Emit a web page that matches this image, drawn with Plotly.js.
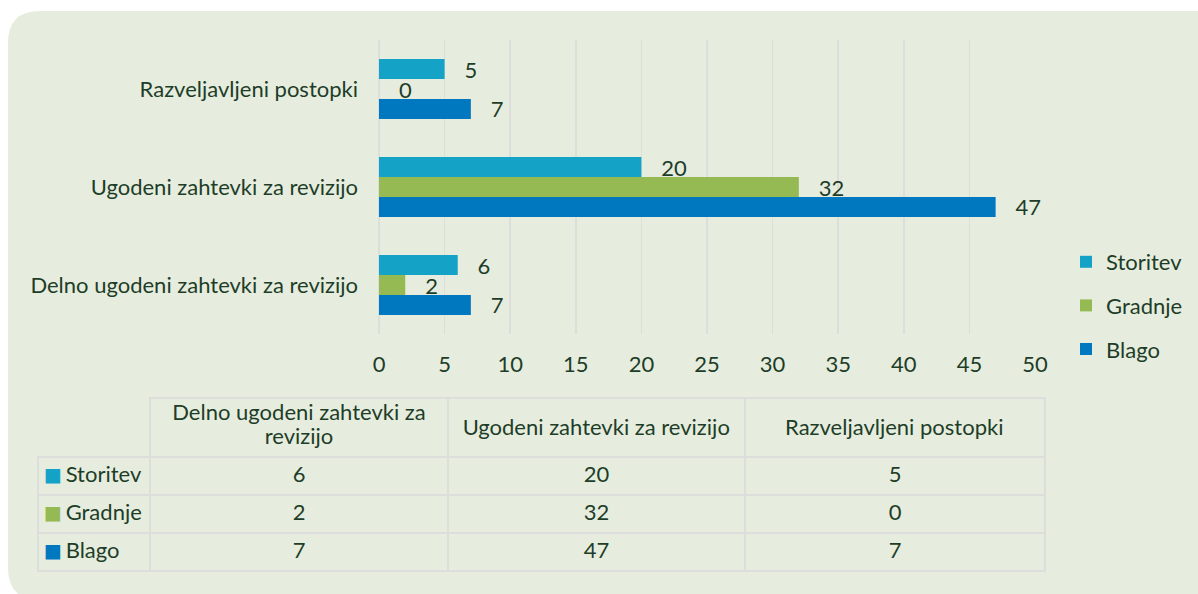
<!DOCTYPE html>
<html>
<head>
<meta charset="utf-8">
<script src="https://cdn.plot.ly/plotly-3.0.1.min.js"></script>
<style>html,body{margin:0;padding:0;background:#fff;}#chart{width:1198px;height:594px;}</style>
</head>
<body>
<div id="chart"></div>
<script>
// ---- data ----
const categories = ["Delno ugodeni zahtevki za revizijo", "Ugodeni zahtevki za revizijo", "Razveljavljeni postopki"];
const headerFirstLine = "Delno ugodeni zahtevki za";
const headerSecondLine = "revizijo";
const headerOneLine = ["Ugodeni zahtevki za revizijo", "Razveljavljeni postopki"];
const seriesNames = ["Storitev", "Gradnje", "Blago"];
const storitev = [6, 20, 5];
const gradnje = [2, 32, 0];
const blago = [7, 47, 7];
const xTicks = [0, 5, 10, 15, 20, 25, 30, 35, 40, 45, 50];

// ---- styles ----
const colors = {Storitev: "#14a3c7", Gradnje: "#95b953", Blago: "#0078bf"};
const txt = "#1e3d28";
const grid = "#dcdedb";
const bg = "rgb(230,237,222)";
const font = "Lato, 'Open Sans', sans-serif";
const FS = 22;
const W = 1198, H = 594;
const px = v => v / W, py = v => 1 - v / H;
const clear = "rgba(0,0,0,0)";

const values = {Storitev: storitev, Gradnje: gradnje, Blago: blago};
const pad = "\u00a0\u00a0\u00a0";

const barOrder = ["Blago", "Gradnje", "Storitev"];
const traces = barOrder.map(name => ({
  type: "bar", orientation: "h", name: name,
  y: categories, x: values[name],
  marker: {color: colors[name]},
  text: values[name].map(v => pad + v),
  textposition: "outside", cliponaxis: false, constraintext: "none",
  textfont: {family: font, size: FS, color: txt},
  legendgroup: name, legendrank: seriesNames.indexOf(name) + 1,
  hoverinfo: "x+name"
}));

// ---- table: grid + values ----
const nameCol = seriesNames.map(n => "\u00a0\u00a0\u00a0\u2009" + n);
const tableCols = [nameCol,
  [storitev[0], gradnje[0], blago[0]],
  [storitev[1], gradnje[1], blago[1]],
  [storitev[2], gradnje[2], blago[2]]];

traces.push({
  type: "table",
  domain: {x: [px(38), px(1045)], y: [py(572), py(398)]},
  columnwidth: [112, 298, 297, 300],
  header: {
    values: ["", "", "", ""],
    align: "center", height: 59,
    fill: {color: clear},
    line: {color: [clear, grid, grid, grid], width: 2},
    font: {family: font, size: FS, color: txt}
  },
  cells: {
    values: tableCols,
    align: ["left", "center", "center", "center"], height: 38,
    fill: {color: clear},
    line: {color: grid, width: 2},
    font: {family: font, size: FS, color: txt}
  },
  showlegend: false
});

// colour keys in the first column
traces.push({
  type: "table",
  domain: {x: [px(36), px(150)], y: [py(580), py(400)]},
  header: {values: [""], height: 59, fill: {color: clear}, line: {color: clear, width: 0}},
  cells: {
    values: [seriesNames.map(() => "■")],
    align: "left", height: 38,
    fill: {color: clear}, line: {color: clear, width: 0},
    font: {family: "DejaVu Sans", size: 19, color: [seriesNames.map(n => colors[n])]}
  },
  showlegend: false
});

// header labels
function headerTable(xa, xb, top, vals, widths) {
  return {
    type: "table",
    domain: {x: [px(xa), px(xb)], y: [py(592), py(top)]},
    columnwidth: widths,
    header: {values: vals, align: "center", height: 40, fill: {color: clear}, line: {color: clear, width: 0},
      font: {family: font, size: FS, color: txt}},
    cells: {values: vals.map(() => [""]), height: 20, fill: {color: clear}, line: {color: clear, width: 0}},
    showlegend: false
  };
}
traces.push(headerTable(150, 448, 395, [headerFirstLine], [298]));
traces.push(headerTable(150, 448, 419, [headerSecondLine], [298]));
traces.push(headerTable(448, 1045, 410, headerOneLine, [297, 300]));

// rounded background
const x0 = px(8), x1 = px(1230), y0 = py(11), y1 = py(600);
const rx = 32 / W, ry = 32 / H;
const bgPath = `M ${x0 + rx},${y0} L ${x1 - rx},${y0} Q ${x1},${y0} ${x1},${y0 - ry} L ${x1},${y1 + ry} Q ${x1},${y1} ${x1 - rx},${y1} L ${x0 + rx},${y1} Q ${x0},${y1} ${x0},${y1 + ry} L ${x0},${y0 - ry} Q ${x0},${y0} ${x0 + rx},${y0} Z`;

const layout = {
  width: W, height: H,
  margin: {l: 0, r: 0, t: 0, b: 0},
  paper_bgcolor: "#ffffff", plot_bgcolor: clear,
  font: {family: font, size: FS, color: txt},
  barmode: "group", bargap: 0.388, bargroupgap: 0,
  shapes: [{type: "path", xref: "paper", yref: "paper", path: bgPath, fillcolor: bg, line: {width: 0}, layer: "below"}],
  xaxis: {
    domain: [px(379), px(1035)], range: [0, 50], tickvals: xTicks,
    showgrid: true, gridcolor: grid, gridwidth: 1.5,
    zeroline: true, zerolinecolor: grid, zerolinewidth: 1.5,
    showline: false, ticks: "", ticklabelstandoff: 15,
    tickfont: {family: font, size: FS, color: txt}, fixedrange: true
  },
  yaxis: {
    domain: [py(334), py(40)], type: "category",
    showgrid: false, zeroline: false, showline: false, ticks: "",
    ticklabelstandoff: 20,
    tickfont: {family: font, size: FS, color: txt}, fixedrange: true
  },
  legend: {
    x: px(1066), y: py(241), xanchor: "left", yanchor: "top",
    traceorder: "grouped", tracegroupgap: 12,
    bgcolor: clear, font: {family: font, size: FS, color: txt},
    itemwidth: 30
  }
};

Plotly.newPlot("chart", traces, layout, {displayModeBar: false, staticPlot: true});
</script>
</body>
</html>
